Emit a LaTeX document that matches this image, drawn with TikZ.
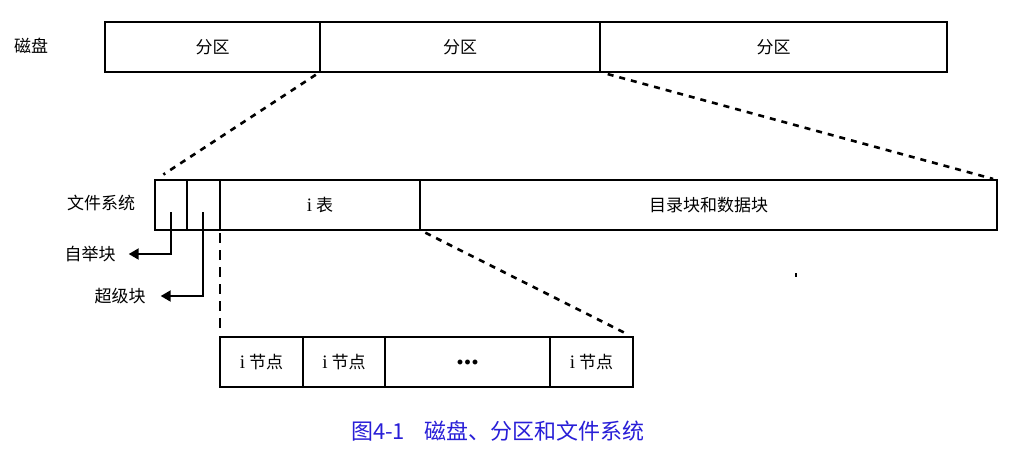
\documentclass[tikz,border=0pt]{standalone}
\usepackage{fontspec}
\setmainfont{Liberation Serif}
\newfontfamily\cjk{Noto Sans CJK SC}
\usetikzlibrary{arrows.meta,calc}
\definecolor{capblue}{RGB}{40,30,215}
\tikzset{
  cell/.style={draw, line width=2.4pt, anchor=north west, inner sep=0pt, outer sep=0pt,
    minimum height=50pt, font=\fontsize{17}{17}\selectfont\cjk},
  lbl/.style={font=\fontsize{17}{17}\selectfont\cjk, inner sep=1pt},
  dashlink/.style={line width=2.6pt, dash pattern=on 6pt off 6pt},
  ptr/.style={line width=2pt, -{Triangle[length=10pt,width=11pt]}},
}
\newcommand{\ilbl}[1]{{\fontsize{19}{19}\selectfont\rmfamily i}\ {\cjk #1}}
\begin{document}
\begin{tikzpicture}[x=1pt,y=-1pt]
\useasboundingbox (0,0) rectangle (1017,448);
% disk row
\node[lbl] (disk) at (31,46) {磁盘};
\node[cell, minimum width=215pt] (p1) at (105,22) {分区};
\node[cell, minimum width=280pt] (p2) at (320,22) {分区};
\node[cell, minimum width=347pt] (p3) at (600,22) {分区};
% file system row
\node[lbl] (fs) at (101,203) {文件系统};
\node[cell, minimum width=32pt] (b1) at (155,180) {};
\node[cell, minimum width=33pt] (b2) at (187,180) {};
\node[cell, minimum width=200pt] (itab) at (220,180) {\ilbl{表}};
\node[cell, minimum width=577pt] (data) at (420,180) {目录块和数据块};
% labels
\node[lbl] (boot) at (90,254) {自举块};
\node[lbl] (super) at (120,296) {超级块};
% inode row
\node[cell, minimum width=83pt] (n1) at (220,337) {\ilbl{节点}};
\node[cell, minimum width=82pt] (n2) at (303,337) {\ilbl{节点}};
\node[cell, minimum width=165pt] (nd) at (385,337) {\fontsize{30}{30}\selectfont\rmfamily\bfseries ...};
\node[cell, minimum width=83pt] (n3) at (550,337) {\ilbl{节点}};
% caption
\node[font=\fontsize{22}{22}\selectfont\cjk, text=capblue] (cap) at (498,431) {图4-1\hspace{0.9em}磁盘、分区和文件系统};
% dashed expansion lines
\draw[dashlink, shorten <=5pt, shorten >=10pt] (p2.south west) -- (b1.north west);
\draw[dashlink, shorten <=8pt, shorten >=4pt] (p3.south west) -- (data.north east);
\draw[dashlink, shorten <=6pt, shorten >=6pt] (itab.south east) -- (n3.north east);
\draw[line width=1.4pt, dash pattern=on 10pt off 7pt, shorten <=3pt, shorten >=6pt] (itab.south west) -- (n1.north west);
% pointers
\draw[ptr] ([yshift=-7pt]b1.center) |- ([xshift=12pt]boot.east);
\draw[ptr] ([yshift=-7pt,xshift=-1pt]b2.center) |- ([xshift=14pt]super.east);
% stray tick
\coordinate (tk) at (796,273);
\draw[line width=1.5pt] (tk) -- ++(0,4);
\end{tikzpicture}
\end{document}
